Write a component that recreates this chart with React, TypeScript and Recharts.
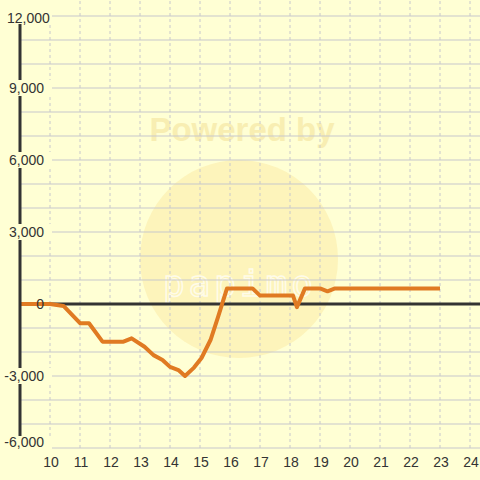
import { LineChart, Line, XAxis, YAxis, ReferenceLine } from "recharts";

const BG = "#ffffd4";
const LINE = "#e07a22";
const INK = "#333333";
const GRID = "#c8c8cc";
const FONT = "'Liberation Sans', Arial, sans-serif";

// hour of day (x) and running difference (y)
const hours = [
  9, 10, 10.45, 11, 11.3, 11.75, 12.45, 12.72, 13.15, 13.45, 13.75, 14, 14.28, 14.5, 14.8,
  15.05, 15.35, 15.6, 15.9, 16, 16.75, 17, 18.1, 18.23, 18.5, 19, 19.25, 19.5, 23,
];
const diff = [
  0, 0, -80, -800, -800, -1570, -1570, -1430, -1780, -2130, -2330, -2620, -2750, -3000, -2650,
  -2250, -1500, -550, 650, 650, 650, 350, 350, -130, 650, 650, 530, 650, 650,
];

const xTicks = [10, 11, 12, 13, 14, 15, 16, 17, 18, 19, 20, 21, 22, 23, 24];
const yTicks = [
  -6000, -5000, -4000, -3000, -2000, -1000, 0, 1000, 2000, 3000, 4000, 5000, 6000, 7000, 8000,
  9000, 10000, 11000, 12000,
];
const yLabelTicks = [-6000, -3000, 0, 3000, 6000, 9000, 12000];

const data = hours.map((h, i) => ({ h, v: diff[i] }));

function YTick(props: any) {
  const { y, payload } = props;
  const val: number = payload.value;
  const label = val.toLocaleString("en-US");
  let cy = y;
  let boxY = y - 8;
  let boxH = 16;
  let boxW = 52;
  if (val === 12000) {
    cy = y + 1.5;
    boxY = 0;
    boxH = 24;
  }
  if (val === -6000) {
    cy = y - 6;
    boxY = y - 12;
    boxH = 20;
  }
  if (val === 0) boxW = 17;
  const big = val >= 10000;
  return (
    <g>
      <rect x={0} y={boxY} width={boxW} height={boxH} fill={BG} />
      <text
        x={big ? 7 : 44}
        y={cy}
        textAnchor={big ? "start" : "end"}
        dominantBaseline="central"
        fill={INK}
        style={{ fontSize: 14, fontFamily: FONT }}
      >
        {label}
      </text>
    </g>
  );
}

function XTick(props: any) {
  const { x, payload } = props;
  return (
    <text
      x={x + 1}
      y={462}
      textAnchor="middle"
      dominantBaseline="central"
      fill={INK}
      style={{ fontSize: 14, fontFamily: FONT }}
    >
      {payload.value}
    </text>
  );
}

function Watermark() {
  return (
    <svg width={480} height={480} style={{ position: "absolute", left: 0, top: 0 }}>
      <rect width={480} height={480} fill={BG} />
      <circle cx={239} cy={259} r={99} fill="#fcf1b4" opacity={0.8} />
      <text x={242} y={141} textAnchor="middle" fontSize={33} fontWeight="bold" fontFamily={FONT} fill="#f8eeb2">
        Powered by
      </text>
      <text
        x={240}
        y={296}
        textAnchor="middle"
        fontSize={36}
        fontFamily="'DejaVu Sans Mono', monospace"
        fill="none"
        stroke="#ffffff"
        strokeOpacity={0.7}
        strokeWidth={1.5}
        letterSpacing={4}
      >
        papimo
      </text>
    </svg>
  );
}

export default function App() {
  return (
    <div style={{ position: "absolute", left: 0, top: 0, width: 480, height: 480 }}>
      <Watermark />
      <div style={{ position: "absolute", left: 0, top: 0 }}>
        <LineChart width={480} height={480} data={data} margin={{ top: 0, right: 0, left: 0, bottom: 0 }}>
          <XAxis
            dataKey="h"
            type="number"
            domain={[9, 24.333]}
            ticks={xTicks}
            allowDataOverflow
            axisLine={false}
            tickLine={false}
            height={32}
            tick={<XTick />}
            interval={0}
          />
          <YAxis
            type="number"
            domain={[-6000, 12667]}
            ticks={yLabelTicks}
            allowDataOverflow
            width={20}
            axisLine={{ stroke: INK, strokeWidth: 3 }}
            tickLine={false}
            tick={<YTick />}
            interval={0}
          />
          {yTicks.map((t) => (
            <ReferenceLine key={"y" + t} y={t} stroke={GRID} strokeWidth={1.2} />
          ))}
          {xTicks.map((t) => (
            <ReferenceLine key={"x" + t} x={t} stroke={GRID} strokeDasharray="3 3" />
          ))}
          <ReferenceLine y={0} stroke={INK} strokeWidth={3} />
          <Line
            dataKey="v"
            type="linear"
            stroke={LINE}
            strokeWidth={4}
            dot={false}
            strokeLinejoin="round"
            isAnimationActive={false}
          />
        </LineChart>
      </div>
    </div>
  );
}
